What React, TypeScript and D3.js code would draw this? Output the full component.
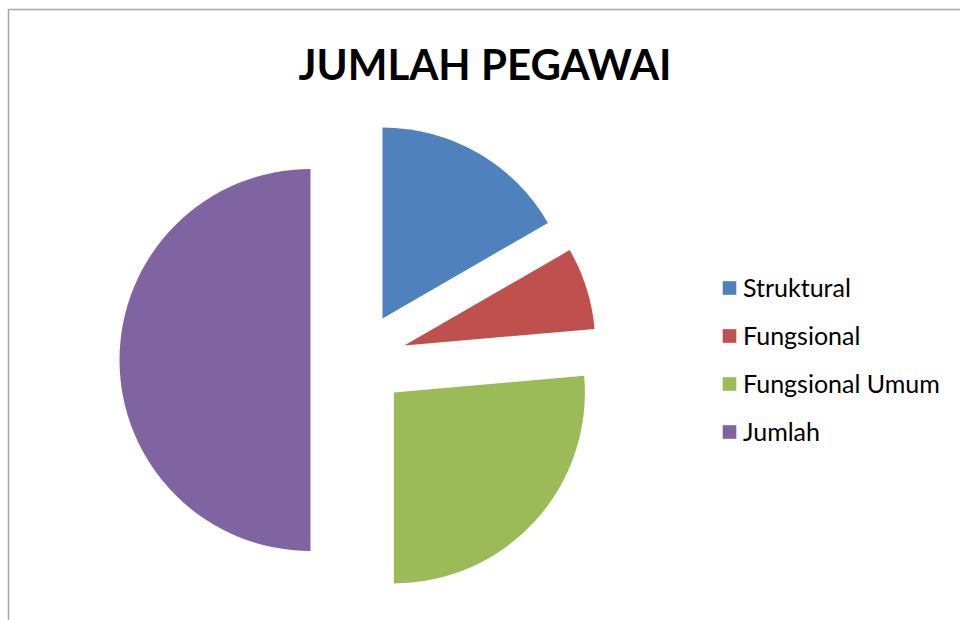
import React, { useEffect, useRef } from "react";
import * as d3 from "d3";

// values (Struktural + Fungsional + Fungsional Umum = Jumlah)
const categories = ["Struktural", "Fungsional", "Fungsional Umum", "Jumlah"];
const values = [12, 5, 19, 36];
const colors = ["#4F81BD", "#C0504D", "#9BBB59", "#8064A2"];
const title = "JUMLAH PEGAWAI";

const FONT = "Lato, 'Open Sans', sans-serif";

function PieChart() {
  const ref = useRef<SVGSVGElement>(null);

  useEffect(() => {
    const svg = d3.select(ref.current);
    svg.selectAll("*").remove();

    const width = 960;
    const height = 620;
    const cx = 358.5;
    const cy = 360;
    const radius = 191;
    const explode = 48;

    // chart frame, cut off on the right and bottom like the screenshot
    svg.append("rect")
      .attr("x", 8.5)
      .attr("y", 9.5)
      .attr("width", width)
      .attr("height", height)
      .attr("fill", "#fff")
      .attr("stroke", "#a6a6a6")
      .attr("stroke-width", 1.5);

    svg.append("text")
      .attr("x", 485)
      .attr("y", 80)
      .attr("text-anchor", "middle")
      .style("font-family", FONT)
      .style("font-size", "42px")
      .style("font-weight", "bold")
      .attr("fill", "#000")
      .text(title);

    const pie = d3.pie<number>().sort(null).value(d => d);
    const arcs = pie(values);
    const arc = d3.arc<d3.PieArcDatum<number>>().innerRadius(0).outerRadius(radius);

    const g = svg.append("g").attr("transform", `translate(${cx},${cy})`);

    g.selectAll("path")
      .data(arcs)
      .enter()
      .append("path")
      .attr("transform", d => {
        const mid = (d.startAngle + d.endAngle) / 2;
        return `translate(${explode * Math.sin(mid)},${-explode * Math.cos(mid)})`;
      })
      .attr("fill", (d, i) => colors[i])
      .attr("d", arc);

    const legend = svg.append("g").attr("transform", "translate(722,288)");
    const rows = legend.selectAll("g")
      .data(categories)
      .enter()
      .append("g")
      .attr("transform", (d, i) => `translate(0,${i * 48})`);

    rows.append("rect")
      .attr("x", 0.5)
      .attr("y", -7)
      .attr("width", 14)
      .attr("height", 14)
      .attr("fill", (d, i) => colors[i])
      .attr("stroke", "#ffffff")
      .attr("stroke-opacity", 0.4);

    rows.append("text")
      .attr("x", 21)
      .attr("y", 9)
      .style("font-family", FONT)
      .style("font-size", "25px")
      .attr("fill", "#000")
      .text(d => d);
  }, []);

  return <svg ref={ref} width={960} height={620} style={{ display: "block" }} />;
}

export default function App() {
  return (
    <div style={{ position: "absolute", left: 0, top: 0 }}>
      <PieChart />
    </div>
  );
}
